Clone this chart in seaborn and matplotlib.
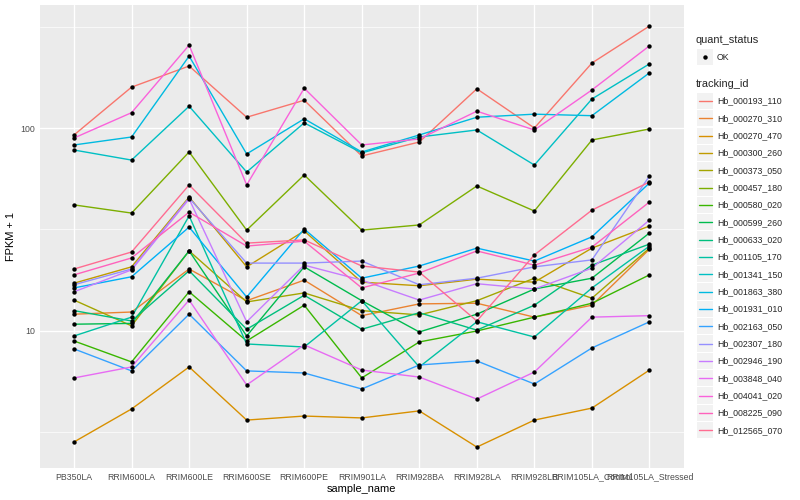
import numpy as np
import pandas as pd
import matplotlib
matplotlib.use("Agg")
import matplotlib.pyplot as plt
import seaborn as sns
from matplotlib.lines import Line2D
from matplotlib.patches import Rectangle
from matplotlib.ticker import NullFormatter, FixedLocator

# ---------------- data ----------------
samples = ["PB350LA", "RRIM600LA", "RRIM600LE", "RRIM600SE", "RRIM600PE",
           "RRIM901LA", "RRIM928BA", "RRIM928LA", "RRIM928LB",
           "RRIM105LA_Control", "RRIM105LA_Stressed"]

tracking_ids = ["Hb_000193_110", "Hb_000270_310", "Hb_000270_470", "Hb_000300_260",
                "Hb_000373_050", "Hb_000457_180", "Hb_000580_020", "Hb_000599_260",
                "Hb_000633_020", "Hb_001105_170", "Hb_001341_150", "Hb_001863_380",
                "Hb_001931_010", "Hb_002163_050", "Hb_002307_180", "Hb_002946_190",
                "Hb_003848_040", "Hb_004041_020", "Hb_008225_090", "Hb_012565_070"]

hue_colors = ["#F8766D", "#EA8331", "#D89000", "#C09B00", "#A3A500", "#7CAE00",
              "#39B600", "#00BB4E", "#00BF7D", "#00C1A3", "#00BFC4", "#00BAE0",
              "#00B0F6", "#35A2FF", "#9590FF", "#C77CFF", "#E76BF3", "#FA62DB",
              "#FF62BC", "#FF6C91"]

# FPKM + 1 per sample (order of `samples`)
Hb_000193_110 = [92.4, 159, 202, 113, 137, 72.8, 85.3, 156, 100, 209, 318]
Hb_000270_310 = [12.1, 12.4, 20.2, 14.1, 17.8, 11.9, 13.6, 13.7, 11.7, 13.4, 25.3]
Hb_000270_470 = [2.84, 4.13, 6.65, 3.64, 3.81, 3.73, 4.04, 2.68, 3.64, 4.17, 6.42]
Hb_000300_260 = [17.2, 20.7, 45.7, 20.7, 31.1, 17.4, 16.7, 18.0, 17.4, 25.6, 32.9]
Hb_000373_050 = [14.2, 10.6, 24.8, 13.9, 15.4, 12.6, 12.0, 14.1, 18.2, 14.5, 25.6]
Hb_000457_180 = [41.8, 38.1, 76.2, 31.4, 58.7, 31.4, 33.3, 51.8, 39.0, 87.3, 98.9]
Hb_000580_020 = [8.93, 7.04, 15.6, 8.93, 13.4, 5.87, 8.83, 10.0, 11.7, 13.7, 18.9]
Hb_000599_260 = [10.8, 10.9, 24.8, 9.45, 20.7, 14.1, 9.89, 12.1, 16.1, 18.2, 30.4]
Hb_000633_020 = [12.6, 11.2, 19.8, 10.2, 15.0, 10.2, 12.3, 10.1, 13.4, 21.1, 26.8]
Hb_001105_170 = [9.45, 11.7, 36.9, 8.63, 8.34, 14.1, 6.65, 11.1, 9.34, 16.3, 26.2]
Hb_001341_150 = [77.9, 69.5, 128, 60.7, 106, 75.4, 90.3, 97.8, 65.7, 139, 207]
Hb_001863_380 = [82.5, 90.3, 226, 74.5, 111, 76.2, 92.4, 113, 117, 115, 187]
Hb_001931_010 = [16.3, 18.5, 32.5, 14.7, 31.8, 18.2, 20.9, 25.6, 22.1, 29.1, 53.6]
Hb_002163_050 = [8.16, 6.36, 12.1, 6.36, 6.21, 5.18, 6.80, 7.12, 5.48, 8.25, 11.1]
Hb_002307_180 = [16.9, 20.2, 45.2, 21.6, 21.6, 22.1, 16.9, 18.2, 20.7, 22.4, 58.0]
Hb_002946_190 = [15.6, 20.0, 44.7, 11.1, 21.1, 17.8, 14.2, 17.1, 16.1, 20.4, 35.2]
Hb_003848_040 = [5.87, 6.65, 14.2, 5.42, 8.54, 6.42, 5.93, 4.62, 6.28, 11.7, 11.9]
Hb_004041_020 = [89.3, 119, 256, 52.4, 157, 82.5, 88.3, 121, 97.8, 154, 254]
Hb_008225_090 = [18.9, 22.9, 38.5, 26.2, 27.7, 16.3, 19.3, 24.8, 21.1, 25.9, 43.2]
Hb_012565_070 = [20.2, 24.5, 52.4, 27.1, 28.1, 20.9, 19.5, 11.2, 23.7, 39.4, 54.2]

series = {
    "Hb_000193_110": Hb_000193_110, "Hb_000270_310": Hb_000270_310,
    "Hb_000270_470": Hb_000270_470, "Hb_000300_260": Hb_000300_260,
    "Hb_000373_050": Hb_000373_050, "Hb_000457_180": Hb_000457_180,
    "Hb_000580_020": Hb_000580_020, "Hb_000599_260": Hb_000599_260,
    "Hb_000633_020": Hb_000633_020, "Hb_001105_170": Hb_001105_170,
    "Hb_001341_150": Hb_001341_150, "Hb_001863_380": Hb_001863_380,
    "Hb_001931_010": Hb_001931_010, "Hb_002163_050": Hb_002163_050,
    "Hb_002307_180": Hb_002307_180, "Hb_002946_190": Hb_002946_190,
    "Hb_003848_040": Hb_003848_040, "Hb_004041_020": Hb_004041_020,
    "Hb_008225_090": Hb_008225_090, "Hb_012565_070": Hb_012565_070,
}

rows = []
for tid in tracking_ids:
    for i, s in enumerate(samples):
        rows.append({"tracking_id": tid, "sample_name": s, "pos": i,
                     "fpkm": series[tid][i], "quant_status": "OK"})
df = pd.DataFrame(rows)

# ---------------- style ----------------
sns.set_style("white")
plt.rcParams["font.family"] = ["Liberation Sans", "DejaVu Sans"]

W, H = 800, 500
fig = plt.figure(figsize=(8, 5), dpi=100)
fig.patch.set_facecolor("white")

pl, pr, pt, pb = 39.5, 684, 5, 468
ax = fig.add_axes([pl / W, 1 - pb / H, (pr - pl) / W, (pb - pt) / H])
ax.set_facecolor("#EBEBEB")

sns.lineplot(data=df, x="pos", y="fpkm", hue="tracking_id", hue_order=tracking_ids,
             palette=hue_colors, estimator=None, sort=False, lw=1.0,
             legend=False, ax=ax, zorder=2)
sns.scatterplot(data=df, x="pos", y="fpkm", color="black", s=10, linewidth=0,
                legend=False, ax=ax, zorder=3)

ax.set_yscale("log")
ax.set_ylim(10 ** 0.325, 10 ** 2.606)
ax.set_xlim(-0.6, len(samples) - 0.4)

ax.set_xticks(range(len(samples)))
ax.set_xticklabels(samples)
ax.yaxis.set_major_locator(FixedLocator([10, 100]))
ax.set_yticklabels(["10", "100"])
ax.yaxis.set_minor_locator(FixedLocator([10 ** 0.5, 10 ** 1.5, 10 ** 2.5]))
ax.yaxis.set_minor_formatter(NullFormatter())

ax.grid(which="major", color="white", lw=1.0)
ax.grid(which="minor", axis="y", color="white", lw=0.5)
ax.set_axisbelow(True)
for sp in ax.spines.values():
    sp.set_visible(False)

ax.tick_params(which="major", length=2, width=0.8, color="#333333",
               labelsize=6.3, labelcolor="#4D4D4D", pad=1.3)
ax.tick_params(which="minor", length=0)

ax.set_xlabel("sample_name", fontsize=7.9, color="black", labelpad=1.5)
ax.set_ylabel("FPKM + 1", fontsize=7.9, color="black", labelpad=3)

# ---------------- legends (ggplot style) ----------------
def fx(px):
    return px / W

def fy(py):
    return 1 - py / H

key = 16.3
kx = 697
fig.text(fx(696), fy(40), "quant_status", fontsize=7.9, va="center", ha="left")
fig.patches.append(Rectangle((fx(kx), fy(49 + key)), key / W, key / H,
                             transform=fig.transFigure, facecolor="#F2F2F2",
                             edgecolor="none", zorder=1))
fig.lines.append(Line2D([fx(kx + key / 2)], [fy(57)], marker="o", color="black",
                        markersize=3.2, markeredgewidth=0, linestyle="none",
                        transform=fig.transFigure, zorder=2))
fig.text(fx(717), fy(57), "OK", fontsize=6.3, va="center", ha="left")

fig.text(fx(696), fy(84), "tracking_id", fontsize=7.9, va="center", ha="left")
y0, step = 101, 17.33
for i, (tid, c) in enumerate(zip(tracking_ids, hue_colors)):
    cy = y0 + i * step
    fig.patches.append(Rectangle((fx(kx), fy(cy + key / 2)), key / W, key / H,
                                 transform=fig.transFigure, facecolor="#F2F2F2",
                                 edgecolor="none", zorder=1))
    fig.lines.append(Line2D([fx(kx + 1.5), fx(kx + key - 1.5)], [fy(cy), fy(cy)],
                            color=c, lw=1.0, transform=fig.transFigure, zorder=2))
    fig.text(fx(717), fy(cy), tid, fontsize=6.3, va="center", ha="left")

fig.savefig("out.png", dpi=100, facecolor="white")
